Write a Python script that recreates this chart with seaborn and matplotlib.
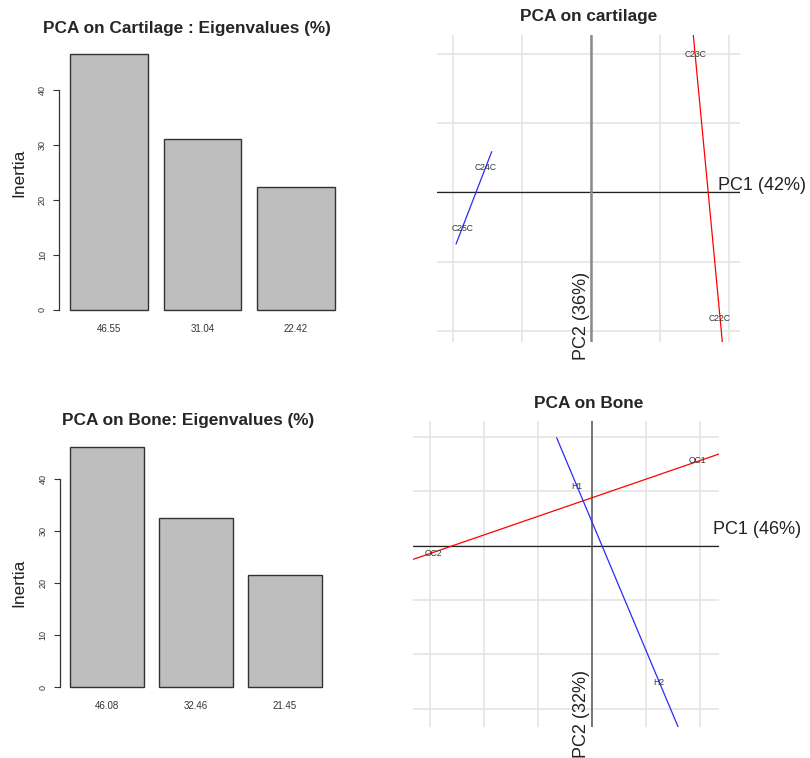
import numpy as np
import pandas as pd
import matplotlib
matplotlib.use("Agg")
import matplotlib.pyplot as plt
import seaborn as sns

sns.set_style("white")
plt.rcParams['font.family'] = ['Liberation Sans', 'DejaVu Sans']

# ---------------- data ----------------
cart_eig = [46.55, 31.04, 22.42]
cart_eig_labels = ["46.55", "31.04", "22.42"]
bone_eig = [46.08, 32.46, 21.45]
bone_eig_labels = ["46.08", "32.46", "21.45"]
eig_ticks = [0, 10, 20, 30, 40]

cart_names = ["C23C", "C22C", "C24C", "C25C"]
cart_x = [0.753, 0.933, -0.762, -0.931]
cart_y = [0.996, -0.914, 0.180, -0.263]
cart_groups = ["red", "red", "blue", "blue"]
# fitted segment ends per group (x0, y0, x1, y1)
cart_seg_red = [0.740, 1.135, 0.950, -1.078]
cart_seg_blue = [-0.719, 0.293, -0.977, -0.373]

bone_names = ["OC1", "OC2", "H1", "H2"]
bone_x = [0.976, -1.472, -0.144, 0.620]
bone_y = [0.780, -0.070, 0.543, -1.261]
bone_seg_red = [-1.657, -0.125, 1.173, 0.844]
bone_seg_blue = [-0.330, 0.994, 0.796, -1.672]

grid_cart = [-1.0, -0.5, 0.0, 0.5, 1.0]
grid_bone = [-1.5, -1.0, -0.5, 0.0, 0.5, 1.0]

W, H = 810, 758
fig = plt.figure(figsize=(W / 100, H / 100), dpi=100)


def px_axes(x0, y0, x1, y1):
    return fig.add_axes([x0 / W, 1 - y1 / H, (x1 - x0) / W, (y1 - y0) / H])


def bar_panel(rect, vals, labels, title, title_xy, inertia_xy):
    ax = px_axes(*rect)
    df = pd.DataFrame({"lab": labels, "val": vals})
    sns.barplot(data=df, x="lab", y="val", color="#bebebe", edgecolor="#333333",
                linewidth=1.0, width=0.8333, saturation=1, ax=ax)
    ax.set_xlim(-0.5300, 2.5300)
    ax.set_ylim(-0.04 * max(vals), 1.04 * max(vals))
    for s in ["top", "right", "bottom"]:
        ax.spines[s].set_visible(False)
    ax.spines["left"].set_bounds(0, 40)
    ax.spines["left"].set_color("#333333")
    ax.spines["left"].set_linewidth(0.9)
    ax.set_yticks(eig_ticks)
    ax.set_yticklabels([str(t) for t in eig_ticks], rotation=90, va="center",
                       fontsize=6.5, color="#333333")
    ax.tick_params(axis="y", length=4.5, width=0.8, color="#333333", pad=4.5, left=True)
    ax.tick_params(axis="x", length=0, pad=3, labelsize=7, labelcolor="#333333")
    ax.set_xlabel("")
    ax.set_ylabel("")
    fig.text(title_xy[0] / W, 1 - title_xy[1] / H, title, ha="center", va="center",
             fontsize=12.4, fontweight="bold")
    fig.text(inertia_xy[0] / W, 1 - inertia_xy[1] / H, "Inertia", ha="center",
             va="center", rotation=90, fontsize=12.5, color="#222222")
    return ax


bar_panel((59.4, 43.7, 345.6, 320.2), cart_eig, cart_eig_labels,
          "PCA on Cartilage : Eigenvalues (%)", (187, 28), (19, 173))
bar_panel((59.9, 437.8, 332.1, 696.6), bone_eig, bone_eig_labels,
          "PCA on Bone: Eigenvalues (%)", (188.5, 421), (19, 583))


def pca_panel(rect, xlim, ylim, grid, names, xs, ys, seg_red, seg_blue, title,
              title_xy, pc1, pc1_xy, pc2, pc2_xy, vcol, vlw):
    ax = px_axes(*rect)
    ax.set_xlim(*xlim)
    ax.set_ylim(*ylim)
    for s in ax.spines.values():
        s.set_visible(False)
    ax.set_xticks(grid)
    ax.set_yticks(grid)
    ax.tick_params(length=0, labelbottom=False, labelleft=False)
    ax.grid(True, color="#e4e4e4", linewidth=1.2)
    ax.set_axisbelow(True)
    ax.axhline(0, color="#222222", linewidth=0.9, zorder=2)
    ax.axvline(0, color=vcol, linewidth=vlw, zorder=2)
    for seg, col in ((seg_red, "#ff0000"), (seg_blue, "#2a2aff")):
        sns.lineplot(x=[seg[0], seg[2]], y=[seg[1], seg[3]], sort=False,
                     color=col, linewidth=0.9, ax=ax, zorder=3)
    for n, x, y in zip(names, xs, ys):
        ax.text(x, y, n, ha="center", va="center", fontsize=6.2, color="#333333",
                zorder=4)
    ax.set_xlabel("")
    ax.set_ylabel("")
    ax.text(pc1_xy[0], pc1_xy[1], pc1, ha="left", va="baseline", fontsize=13,
            color="#222222", clip_on=False)
    ax.text(pc2_xy[0], pc2_xy[1], pc2, ha="right", va="top", rotation=90,
            fontsize=13, color="#222222", clip_on=False)
    fig.text(title_xy[0] / W, 1 - title_xy[1] / H, title, ha="center", va="center",
             fontsize=12.4, fontweight="bold")
    return ax


pca_panel((436.7, 35, 740, 341.7), (-1.117, 1.078), (-1.078, 1.135), grid_cart,
          cart_names, cart_x, cart_y, cart_seg_red, cart_seg_blue,
          "PCA on cartilage", (589, 17), "PC1 (42%)", (0.921, 0.02),
          "PC2 (36%)", (-0.005, -0.575), "#8a8a8a", 1.8)
pca_panel((413.3, 421, 719, 727.3), (-1.657, 1.173), (-1.672, 1.148), grid_bone,
          bone_names, bone_x, bone_y, bone_seg_red, bone_seg_blue,
          "PCA on Bone", (589, 403), "PC1 (46%)", (1.12, 0.108),
          "PC2 (32%)", (-0.02, -1.145), "#555555", 1.1)

fig.savefig("out.png", dpi=100)
